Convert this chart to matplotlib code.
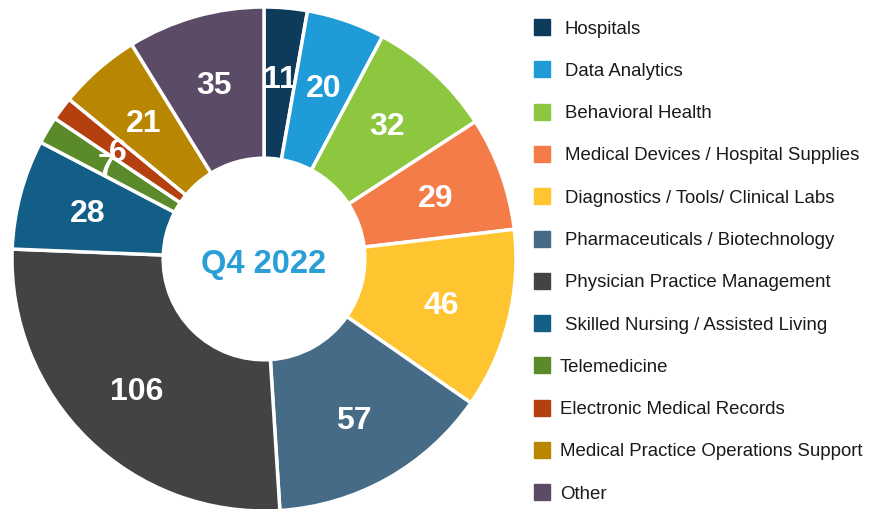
import numpy as np
import matplotlib.pyplot as plt
from matplotlib.patches import Rectangle

plt.rcParams['font.family'] = ['Liberation Sans', 'DejaVu Sans']

categories = [
    "Hospitals",
    "Data Analytics",
    "Behavioral Health",
    "Medical Devices / Hospital Supplies",
    "Diagnostics / Tools/ Clinical Labs",
    "Pharmaceuticals / Biotechnology",
    "Physician Practice Management",
    "Skilled Nursing / Assisted Living",
    "Telemedicine",
    "Electronic Medical Records",
    "Medical Practice Operations Support",
    "Other",
]
values = [11, 20, 32, 29, 46, 57, 106, 28, 7, 6, 21, 35]
colors = ["#0e3a5c", "#1f9bd7", "#8dc63f", "#f47c48", "#ffc530", "#456b86",
          "#434345", "#135e86", "#5a8a2a", "#b5400f", "#b88600", "#5c4b66"]
center_label = "Q4 2022"

W, H = 881, 509
fig = plt.figure(figsize=(W / 100, H / 100), dpi=100)

# donut axes: centre (264, 259) px, radius 252 px
cx, cy, R = 264, 259, 252
ax = fig.add_axes([(cx - R) / W, (H - cy - R) / H, 2 * R / W, 2 * R / H])
ring = 0.6
wedges, _ = ax.pie(values, colors=colors, startangle=90, counterclock=False,
                   radius=1.0,
                   wedgeprops=dict(width=ring, edgecolor="white", linewidth=2.5))
ax.set_xlim(-1, 1)
ax.set_ylim(-1, 1)
ax.set_aspect("equal")
ax.axis("off")

r_lab = 0.725
for w, v in zip(wedges, values):
    ang = np.deg2rad((w.theta1 + w.theta2) / 2)
    ax.text(r_lab * np.cos(ang), r_lab * np.sin(ang) - 0.01, str(v),
            ha="center", va="center", color="white", fontsize=23,
            fontweight="bold")

ax.text(0, -0.02, center_label, ha="center", va="center", color="#2a9fd6",
        fontsize=23.5, fontweight="bold")

# legend
y0, dy = 27, 42.3
for i, (c, name) in enumerate(zip(colors, categories)):
    y = y0 + i * dy
    fig.patches.append(Rectangle((534 / W, (H - y - 8) / H), 16 / W, 16 / H,
                                 transform=fig.transFigure, color=c))
    tx = 565 if i < 8 else 560
    fig.text(tx / W, (H - y - 2) / H, name, ha="left", va="center",
             fontsize=13.4, color="#1a1a1a")

fig.savefig("out.png", dpi=100)
